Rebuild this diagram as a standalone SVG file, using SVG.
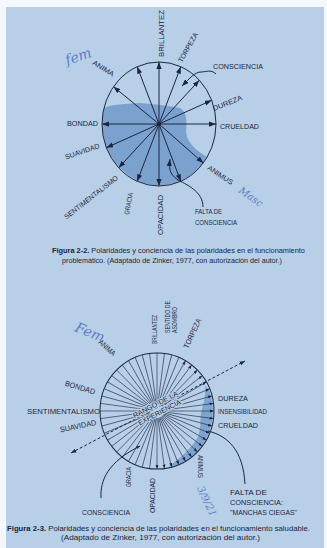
<svg xmlns="http://www.w3.org/2000/svg" xmlns:xlink="http://www.w3.org/1999/xlink" width="327" height="548" viewBox="0 0 327 548">
<style>
.ln{stroke:#1c2640;fill:none;stroke-width:1}
.sp{stroke:#1c2640;fill:none;stroke-width:0.6}
.t{font-family:"Liberation Sans",Arial,sans-serif;fill:#1c2640;font-size:7px}
.t2{font-family:"Liberation Sans",Arial,sans-serif;fill:#1c2640;font-size:7.6px}
.cap{font-family:"Liberation Sans",Arial,sans-serif;fill:#1c2435;font-size:6.7px}
.hw{font-family:"DejaVu Serif",serif;font-style:italic;fill:#5a7ec4;font-weight:normal}
</style>
<defs>
<marker id="ah" viewBox="0 0 8 6" refX="8" refY="3" markerWidth="7" markerHeight="5.5" markerUnits="userSpaceOnUse" orient="auto"><path d="M0,0 L8,3 L0,6 Z" fill="#1c2640"/></marker>
<marker id="as" viewBox="0 0 8 6" refX="8" refY="3" markerWidth="4" markerHeight="3.2" markerUnits="userSpaceOnUse" orient="auto"><path d="M0,0 L8,3 L0,6 Z" fill="#1c2640"/></marker>
<marker id="ad" viewBox="0 0 8 6" refX="8" refY="3" markerWidth="5.5" markerHeight="4.5" markerUnits="userSpaceOnUse" orient="auto-start-reverse"><path d="M0,0 L8,3 L0,6 Z" fill="#1c2640"/></marker>
<line id="s" x1="0" y1="-7" x2="0" y2="-57" class="sp"/>
<line id="sa" x1="0" y1="-7" x2="0" y2="-57" class="sp" marker-end="url(#as)"/>
</defs>
<rect width="327" height="548" fill="#f4f7fb"/>
<rect x="6" y="7" width="318" height="541" fill="#b8cfe8"/>

<!-- Figure 2-2 -->
<g id="fig1-circle">
<path d="M104,108 C112,104 125,104 140,103 C155,104 170,106 180,108 C187,112 187,122 186,132 C187,142 195,150 207,157 A57,62 0 0 1 104,108 Z" fill="#7ba1ce"/>
<ellipse cx="159" cy="124" rx="57" ry="62" class="ln" stroke-width="1.2"/>
<circle cx="159" cy="124" r="2" fill="#1c2640"/>
</g>
<g id="fig1-connectors">
<g class="ln" marker-end="url(#ah)">
<line x1="159" y1="124" x2="159" y2="62"/>
<line x1="159" y1="124" x2="180.8" y2="66.7"/>
<line x1="159" y1="124" x2="199.3" y2="80.2"/>
<line x1="159" y1="124" x2="211.7" y2="100.3"/>
<line x1="159" y1="124" x2="216" y2="124"/>
<line x1="159" y1="124" x2="203.3" y2="163"/>
<line x1="159" y1="124" x2="180.8" y2="181.3"/>
<line x1="159" y1="124" x2="159" y2="186"/>
<line x1="159" y1="124" x2="137.2" y2="181.3"/>
<line x1="159" y1="124" x2="118.7" y2="167.8"/>
<line x1="159" y1="124" x2="106.3" y2="147.7"/>
<line x1="159" y1="124" x2="102" y2="124"/>
<line x1="159" y1="124" x2="113.5" y2="86.7"/>
<line x1="159" y1="124" x2="137.2" y2="66.7"/>
</g>
<path d="M216,74 C211,69 206,72 201,72 C195,72 190,78 182,86" class="ln" marker-end="url(#ah)"/>
<path d="M203,207 C203,193 190,186 178,180 C169,174 169,168 170,159" class="ln" marker-end="url(#ah)"/>
</g>
<g id="fig1-labels">
<text class="t" transform="translate(163.5,57) rotate(-90)" textLength="47" lengthAdjust="spacingAndGlyphs">BRILLANTEZ</text>
<text class="t" transform="translate(182,63) rotate(-60.5)" textLength="33" lengthAdjust="spacingAndGlyphs">TORPEZA</text>
<text class="t" x="213" y="69" textLength="50" lengthAdjust="spacingAndGlyphs">CONSCIENCIA</text>
<text class="t" transform="translate(214,111) rotate(-21.8)" textLength="31" lengthAdjust="spacingAndGlyphs">DUREZA</text>
<text class="t" x="220" y="129" textLength="39" lengthAdjust="spacingAndGlyphs">CRUELDAD</text>
<text class="t" transform="translate(207,169) rotate(33.7)" textLength="29" lengthAdjust="spacingAndGlyphs">ANIMUS</text>
<text class="t" x="67" y="125.5" textLength="31" lengthAdjust="spacingAndGlyphs">BONDAD</text>
<text class="t" transform="translate(66,159.5) rotate(-19)" textLength="36" lengthAdjust="spacingAndGlyphs">SUAVIDAD</text>
<text class="t" transform="translate(66.5,219.5) rotate(-38)" textLength="66" lengthAdjust="spacingAndGlyphs">SENTIMENTALISMO</text>
<text class="t" transform="translate(129,215) rotate(-80)" textLength="22" lengthAdjust="spacingAndGlyphs">GRACIA</text>
<text class="t" transform="translate(162.5,235) rotate(-90)" textLength="40" lengthAdjust="spacingAndGlyphs">OPACIDAD</text>
<text class="t" x="195" y="214" textLength="27" lengthAdjust="spacingAndGlyphs">FALTA DE</text>
<text class="t" x="195" y="224.5" textLength="42" lengthAdjust="spacingAndGlyphs">CONSCIENCIA</text>
<text class="t" transform="translate(92,64) rotate(32)" font-size="6" textLength="24" lengthAdjust="spacingAndGlyphs">ANIMA</text>
<text class="hw" transform="translate(67,65) rotate(-18)" font-size="14">fem</text>
<text class="hw" transform="translate(238,192) rotate(35)" font-size="10">Masc</text>
</g>
<g id="caption-2-2">
<text class="cap" x="52" y="253" textLength="253" lengthAdjust="spacingAndGlyphs"><tspan font-weight="bold">Figura 2-2.</tspan> Polaridades y conciencia de las polaridades en el funcionamiento</text>
<text class="cap" x="62" y="263" textLength="220" lengthAdjust="spacingAndGlyphs">problemático. (Adaptado de Zinker, 1977, con autorización del autor.)</text>
</g>

<!-- Figure 2-3 -->
<g id="fig2-circle">
<path d="M205,386 L209,390 A56,58 0 0 1 168,468 L172,464 C180,458 192,448 198,437 C201,428 200,420 201,413 C203,405 206,397 205,386 Z" fill="#7ea5d2"/>
<g transform="translate(157,411) scale(1,1.018)">
<use xlink:href="#s" transform="rotate(0)"/>
<use xlink:href="#s" transform="rotate(7.5)"/>
<use xlink:href="#s" transform="rotate(15)"/>
<use xlink:href="#s" transform="rotate(22.5)"/>
<use xlink:href="#sa" transform="rotate(30)"/>
<use xlink:href="#sa" transform="rotate(37.5)"/>
<use xlink:href="#sa" transform="rotate(45)"/>
<use xlink:href="#sa" transform="rotate(52.5)"/>
<use xlink:href="#sa" transform="rotate(60)"/>
<use xlink:href="#sa" transform="rotate(67.5)"/>
<use xlink:href="#sa" transform="rotate(75)"/>
<use xlink:href="#sa" transform="rotate(82.5)"/>
<use xlink:href="#sa" transform="rotate(90)"/>
<use xlink:href="#sa" transform="rotate(97.5)"/>
<use xlink:href="#sa" transform="rotate(105)"/>
<use xlink:href="#sa" transform="rotate(112.5)"/>
<use xlink:href="#sa" transform="rotate(120)"/>
<use xlink:href="#sa" transform="rotate(127.5)"/>
<use xlink:href="#sa" transform="rotate(135)"/>
<use xlink:href="#sa" transform="rotate(142.5)"/>
<use xlink:href="#sa" transform="rotate(150)"/>
<use xlink:href="#sa" transform="rotate(157.5)"/>
<use xlink:href="#sa" transform="rotate(165)"/>
<use xlink:href="#sa" transform="rotate(172.5)"/>
<use xlink:href="#sa" transform="rotate(180)"/>
<use xlink:href="#s" transform="rotate(187.5)"/>
<use xlink:href="#s" transform="rotate(195)"/>
<use xlink:href="#s" transform="rotate(202.5)"/>
<use xlink:href="#s" transform="rotate(210)"/>
<use xlink:href="#s" transform="rotate(217.5)"/>
<use xlink:href="#s" transform="rotate(225)"/>
<use xlink:href="#s" transform="rotate(232.5)"/>
<use xlink:href="#s" transform="rotate(240)"/>
<use xlink:href="#s" transform="rotate(247.5)"/>
<use xlink:href="#s" transform="rotate(255)"/>
<use xlink:href="#s" transform="rotate(262.5)"/>
<use xlink:href="#s" transform="rotate(270)"/>
<use xlink:href="#s" transform="rotate(277.5)"/>
<use xlink:href="#s" transform="rotate(285)"/>
<use xlink:href="#s" transform="rotate(292.5)"/>
<use xlink:href="#s" transform="rotate(300)"/>
<use xlink:href="#s" transform="rotate(307.5)"/>
<use xlink:href="#s" transform="rotate(315)"/>
<use xlink:href="#s" transform="rotate(322.5)"/>
<use xlink:href="#s" transform="rotate(330)"/>
<use xlink:href="#s" transform="rotate(337.5)"/>
<use xlink:href="#s" transform="rotate(345)"/>
<use xlink:href="#s" transform="rotate(352.5)"/>
<circle r="57" class="ln" stroke-width="1.2"/>
</g>
</g>
<g id="fig2-connectors">
<line x1="71" y1="453" x2="245" y2="361" class="ln" stroke-width="0.8" stroke-dasharray="3,2" marker-start="url(#ad)" marker-end="url(#ad)"/>
<path d="M101,498 C100,480 108,462 140,446" class="ln" stroke-width="0.8" marker-end="url(#as)"/>
<path d="M208,431 C228,436 243,450 245,484" class="ln" stroke-width="0.8"/>
</g>
<g id="fig2-labels">
<g style="paint-order:stroke;stroke:#b8cfe8;stroke-width:2.2px">
<text class="t" font-size="7.5" text-anchor="middle" transform="translate(156.5,406.6) rotate(-28)" textLength="50" lengthAdjust="spacingAndGlyphs">RANGO DE LA</text>
<text class="t" font-size="7.5" text-anchor="middle" transform="translate(160.5,414.5) rotate(-28)" textLength="47" lengthAdjust="spacingAndGlyphs">EXPERIENCIA</text>
</g>
<text class="t2" transform="translate(156.8,344) rotate(-90)" textLength="29" lengthAdjust="spacingAndGlyphs">BRILLANTEZ</text>
<text class="t2" transform="translate(169.8,333) rotate(-90)" textLength="32" lengthAdjust="spacingAndGlyphs">SENTIDO DE</text>
<text class="t2" transform="translate(177.2,333) rotate(-90)" textLength="26" lengthAdjust="spacingAndGlyphs">ASOMBRO</text>
<text class="t2" transform="translate(188,349) rotate(-65)" textLength="32" lengthAdjust="spacingAndGlyphs">TORPEZA</text>
<text class="t2" transform="translate(98,343) rotate(42)" font-size="6.3" textLength="20" lengthAdjust="spacingAndGlyphs">ANIMA</text>
<text class="t2" transform="translate(64.5,385.5) rotate(17)" textLength="31" lengthAdjust="spacingAndGlyphs">BONDAD</text>
<text class="t2" x="27" y="414" textLength="73" lengthAdjust="spacingAndGlyphs">SENTIMENTALISMO</text>
<text class="t2" transform="translate(60.5,432.5) rotate(-12)" textLength="37" lengthAdjust="spacingAndGlyphs">SUAVIDAD</text>
<text class="t2" x="218" y="400.5" textLength="30" lengthAdjust="spacingAndGlyphs">DUREZA</text>
<text class="t2" x="218" y="414" textLength="49" lengthAdjust="spacingAndGlyphs">INSENSIBILIDAD</text>
<text class="t2" x="218" y="427.5" textLength="40" lengthAdjust="spacingAndGlyphs">CRUELDAD</text>
<text class="t2" transform="translate(197.5,455) rotate(90)" textLength="23" lengthAdjust="spacingAndGlyphs">ANIMUS</text>
<text class="t2" transform="translate(130.8,487) rotate(-90)" textLength="20" lengthAdjust="spacingAndGlyphs">GRACIA</text>
<text class="t2" transform="translate(154.8,513) rotate(-90)" textLength="35" lengthAdjust="spacingAndGlyphs">OPACIDAD</text>
<text class="t2" x="82" y="515" textLength="48" lengthAdjust="spacingAndGlyphs">CONSCIENCIA</text>
<text class="t2" x="230" y="495" textLength="37" lengthAdjust="spacingAndGlyphs">FALTA DE</text>
<text class="t2" x="230" y="505" textLength="53" lengthAdjust="spacingAndGlyphs">CONSCIENCIA:</text>
<text class="t2" x="230" y="515" textLength="67" lengthAdjust="spacingAndGlyphs">"MANCHAS CIEGAS"</text>
<text class="hw" transform="translate(74,331) rotate(22)" font-size="14">Fem</text>
<text class="hw" transform="translate(197,488) rotate(65)" font-size="10">3/9/21</text>
</g>
<g id="caption-2-3">
<text class="cap" x="7" y="531" textLength="303" lengthAdjust="spacingAndGlyphs"><tspan font-weight="bold">Figura 2-3.</tspan> Polaridades y conciencia de las polaridades en el funcionamiento saludable.</text>
<text class="cap" x="61" y="540" textLength="199" lengthAdjust="spacingAndGlyphs">(Adaptado de Zinker, 1977, con autorización del autor.)</text>
</g>
</svg>
